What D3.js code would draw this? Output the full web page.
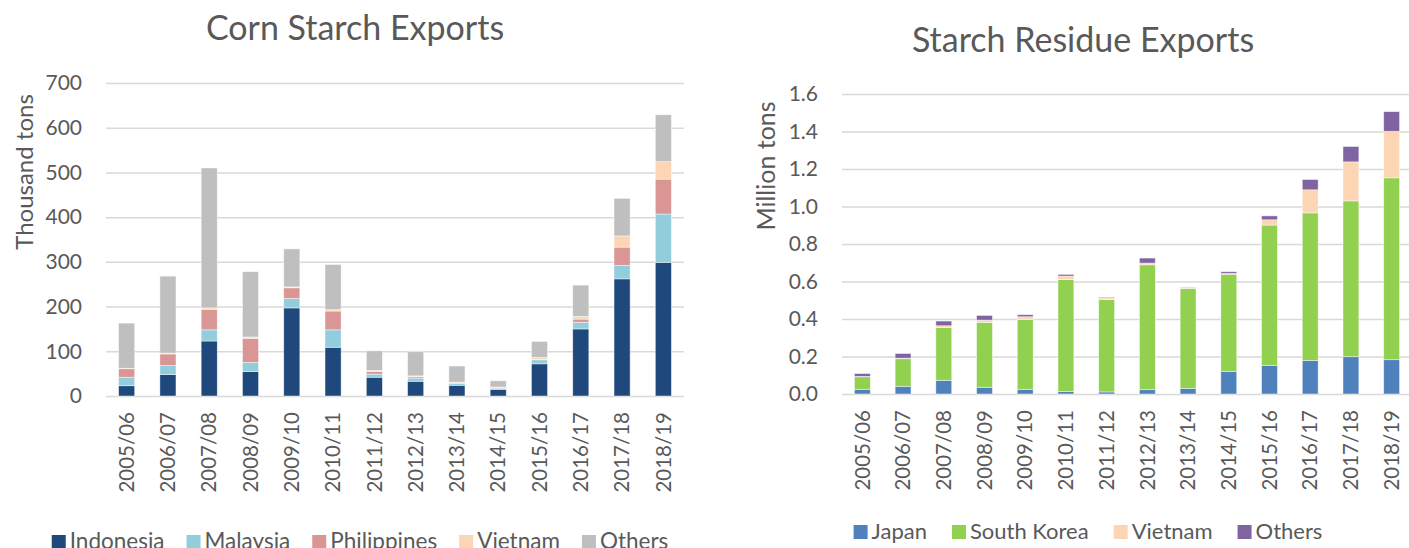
<!DOCTYPE html>
<html>
<head>
<meta charset="utf-8">
<script src="https://cdn.jsdelivr.net/npm/d3@7"></script>
<style>
    body { margin: 0; background: #fff; }
    text { font-family: Lato, "Open Sans", sans-serif; fill: #595959; }
</style>
</head>
<body>
<div class="chart"></div>
<script>
var seasons = ["2005/06", "2006/07", "2007/08", "2008/09", "2009/10", "2010/11", "2011/12",
    "2012/13", "2013/14", "2014/15", "2015/16", "2016/17", "2017/18", "2018/19"];

// corn starch, thousand tons
var cornIndonesia = [23, 48, 123, 55, 197, 109, 42, 33, 24, 15, 72, 150, 262, 299];
var cornMalaysia = [19, 20, 25, 20, 21, 39, 7, 7, 4, 2, 9, 15, 30, 108];
var cornPhilippines = [19, 26, 46, 54, 24, 42, 6, 3, 1, 2, 1, 7, 41, 78];
var cornVietnam = [1, 2, 3, 3, 2, 3, 2, 2, 2, 1, 4, 6, 25, 39];
var cornOthers = [101, 172, 313, 146, 85, 101, 44, 54, 36, 14, 36, 70, 84, 105];
var cornTicks = [0, 100, 200, 300, 400, 500, 600, 700];

// starch residue, million tons
var resJapan = [0.025, 0.041, 0.073, 0.036, 0.025, 0.014, 0.011, 0.023, 0.030, 0.121, 0.153, 0.179, 0.199, 0.183];
var resKorea = [0.067, 0.147, 0.282, 0.346, 0.373, 0.597, 0.493, 0.666, 0.533, 0.518, 0.748, 0.787, 0.831, 0.970];
var resVietnam = [0.002, 0.003, 0.009, 0.012, 0.014, 0.018, 0.009, 0.009, 0.002, 0.004, 0.028, 0.123, 0.208, 0.248];
var resOthers = [0.015, 0.025, 0.025, 0.025, 0.011, 0.009, 0.004, 0.027, 0.003, 0.009, 0.021, 0.055, 0.082, 0.105];
var resTicks = [0, 0.2, 0.4, 0.6, 0.8, 1.0, 1.2, 1.4, 1.6];

var svgWidth = 1409;
var svgHeight = 548;

var $svg = d3.select(".chart")
    .append("svg")
    .attr("width", svgWidth)
    .attr("height", svgHeight);

var gridColor = "#d9d9d9";

drawChart({
    title: "Corn Starch Exports",
    titleX: 355, titleY: 40,
    yTitle: "Thousand tons",
    yTitleX: 33, yTitleY: 172, yTitleSize: 24,
    left: 106, right: 684, top: 83, bottom: 396,
    keys: ["Indonesia", "Malaysia", "Philippines", "Vietnam", "Others"],
    series: [cornIndonesia, cornMalaysia, cornPhilippines, cornVietnam, cornOthers],
    colors: ["#1f497d", "#92cddc", "#d99694", "#fcd5b4", "#bfbfbf"],
    ticks: cornTicks,
    fmt: d3.format("d"),
    legendY: 549, legendCx: 360, legendGap: 22, legendSize: 22.5
});

drawChart({
    title: "Starch Residue Exports",
    titleX: 1083, titleY: 52,
    yTitle: "Million tons",
    yTitleX: 775, yTitleY: 166, yTitleSize: 25,
    left: 842, right: 1412, top: 94, bottom: 394,
    keys: ["Japan", "South Korea", "Vietnam", "Others"],
    series: [resJapan, resKorea, resVietnam, resOthers],
    colors: ["#4f81bd", "#92d050", "#fcd5b4", "#8064a2"],
    ticks: resTicks,
    fmt: d3.format(".1f"),
    legendY: 539, legendCx: 1088, legendGap: 25, legendSize: 22
});

function drawChart(cfg) {
    var rows = seasons.map((s, i) => {
        var row = {season: s};
        cfg.keys.forEach((k, j) => row[k] = cfg.series[j][i]);
        return row;
    });

    var xScale = d3.scaleBand()
        .domain(seasons)
        .range([cfg.left, cfg.right])
        .paddingInner(0.61)
        .paddingOuter(0.305);

    var yScale = d3.scaleLinear()
        .domain([cfg.ticks[0], cfg.ticks[cfg.ticks.length - 1]])
        .range([cfg.bottom, cfg.top]);

    var $g = $svg.append("g");

    // gridlines + y labels
    var yAxis = d3.axisLeft(yScale)
        .tickValues(cfg.ticks)
        .tickFormat(cfg.fmt)
        .tickSize(-(cfg.right - cfg.left))
        .tickPadding(24);

    var $yAxis = $g.append("g")
        .attr("transform", `translate(${cfg.left},0)`)
        .call(yAxis);
    $yAxis.select(".domain").remove();
    $yAxis.selectAll("line")
        .attr("stroke", gridColor)
        .attr("stroke-width", 1.5);
    $yAxis.selectAll("text")
        .style("font-size", "21px")
        .attr("fill", "#595959");

    // stacked bars
    var stacked = d3.stack().keys(cfg.keys)(rows);

    $g.selectAll(".layer")
        .data(stacked)
        .enter()
        .append("g")
        .attr("fill", (d, i) => cfg.colors[i])
        .selectAll("rect")
        .data(d => d)
        .enter()
        .append("rect")
        .attr("x", d => xScale(d.data.season))
        .attr("width", xScale.bandwidth())
        .attr("y", d => yScale(d[1]))
        .attr("height", d => yScale(d[0]) - yScale(d[1]))
        .attr("stroke", "rgba(255,255,255,0.6)")
        .attr("stroke-width", 0.75);

    // x labels
    var xAxis = d3.axisBottom(xScale).tickSize(0).tickPadding(0);
    var $xAxis = $g.append("g")
        .attr("transform", `translate(0,${cfg.bottom})`)
        .call(xAxis);
    $xAxis.select(".domain").remove();
    $xAxis.selectAll("text")
        .attr("transform", "rotate(-90)")
        .attr("x", -16)
        .attr("y", 0)
        .attr("dy", "0.35em")
        .attr("text-anchor", "end")
        .style("font-size", "20.5px")
        .attr("fill", "#595959");

    // titles
    $g.append("text")
        .attr("x", cfg.titleX)
        .attr("y", cfg.titleY)
        .attr("text-anchor", "middle")
        .style("font-size", "34px")
        .text(cfg.title);

    $g.append("text")
        .attr("transform", `translate(${cfg.yTitleX},${cfg.yTitleY}) rotate(-90)`)
        .attr("text-anchor", "middle")
        .style("font-size", cfg.yTitleSize + "px")
        .text(cfg.yTitle);

    // legend
    var $legend = $g.append("g");
    var xPos = 0;
    cfg.keys.forEach((k, i) => {
        var $item = $legend.append("g").attr("transform", `translate(${xPos},0)`);
        $item.append("rect")
            .attr("x", 0)
            .attr("y", -14)
            .attr("width", 14)
            .attr("height", 14)
            .attr("fill", cfg.colors[i]);
        var $t = $item.append("text")
            .attr("x", 18)
            .attr("y", 0)
            .style("font-size", cfg.legendSize + "px")
            .text(k);
        xPos += 18 + $t.node().getComputedTextLength() + cfg.legendGap;
    });
    xPos -= cfg.legendGap;
    $legend.attr("transform", `translate(${cfg.legendCx - xPos / 2},${cfg.legendY})`);
}
</script>
</body>
</html>
